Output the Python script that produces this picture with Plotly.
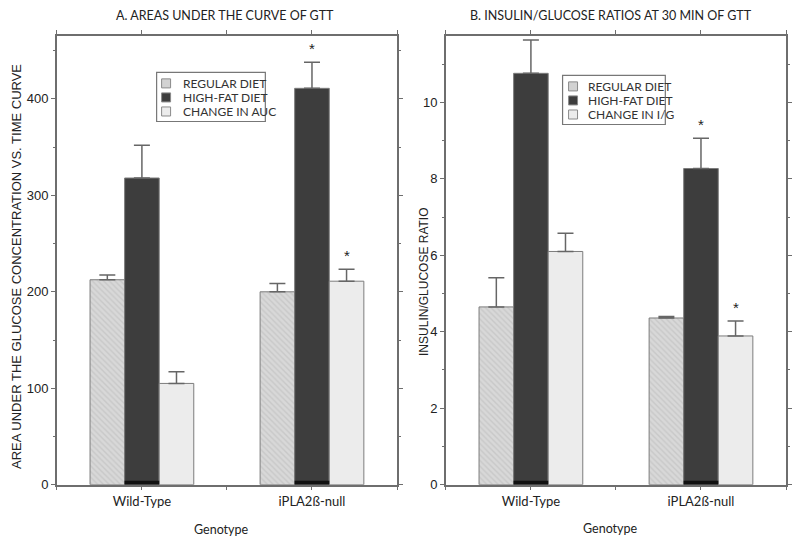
import plotly.graph_objects as go

# ---------------- data ----------------
genotypes = ["Wild-Type", "iPLA2ß-null"]
group_pos = [1, 3]            # positions of the genotype groups on the x scale
x_ticks = [0, 1, 2, 3, 4]

# Panel A: area under the curve of GTT
auc_regular = [212.5, 200]
auc_regular_err = [5, 8.5]
auc_highfat = [318, 411]
auc_highfat_err = [34, 27]
auc_change = [105, 211]
auc_change_err = [12, 12.5]
auc_sig_highfat = [False, True]
auc_sig_change = [False, True]

# Panel B: insulin/glucose ratios at 30 min
ig_regular = [4.65, 4.36]
ig_regular_err = [0.76, 0.04]
ig_highfat = [10.76, 8.27]
ig_highfat_err = [0.87, 0.79]
ig_change = [6.1, 3.89]
ig_change_err = [0.48, 0.39]
ig_sig_highfat = [False, True]
ig_sig_change = [False, True]

series_names_a = ["REGULAR DIET", "HIGH-FAT DIET", "CHANGE IN AUC"]
series_names_b = ["REGULAR DIET", "HIGH-FAT DIET", "CHANGE IN I/G"]

# ---------------- geometry helpers (page has 8px body margin) ----------------
W, H = 784, 540
OFF = 8
KY = 0.982   # observed vertical scale of the photographed page


def px(X):
    return (X - OFF) / W


def py(Y):
    return 1 - (Y / KY - OFF) / H


# ---------------- style ----------------
AX = "#6e6e6e"
OUT = "#7c7c7c"
ERR = "#666666"
LABEL_FONT = "Lato"
NUM_FONT = "Liberation Sans"
BARGAP = 0.39

styles = [
    dict(color="#d2d2d2", pattern=dict(shape="\\", fgcolor="#b8b8b8", bgcolor="#d8d8d8", size=4, solidity=0.35)),
    dict(color="#3d3d3d", pattern=None),
    dict(color="#ececec", pattern=None),
]

fig = go.Figure()


def add_panel(values, errors, names, xa, ya):
    for i, (vals, errs, name) in enumerate(zip(values, errors, names)):
        marker = dict(color=styles[i]["color"], line=dict(color=OUT, width=1))
        if styles[i]["pattern"]:
            marker["pattern"] = styles[i]["pattern"]
        fig.add_trace(go.Bar(
            x=group_pos, y=vals, name=name, marker=marker,
            error_y=dict(type="data", array=errs, arrayminus=[0] * len(errs),
                         symmetric=False, color=ERR, thickness=1.5, width=8),
            xaxis=xa, yaxis=ya, showlegend=False,
            offsetgroup=str(i), alignmentgroup=xa,
        ))


add_panel([auc_regular, auc_highfat, auc_change],
          [auc_regular_err, auc_highfat_err, auc_change_err],
          series_names_a, "x", "y")
add_panel([ig_regular, ig_highfat, ig_change],
          [ig_regular_err, ig_highfat_err, ig_change_err],
          series_names_b, "x2", "y2")

bar_w = 2 * (1 - BARGAP) / 3

# dark base strip at the foot of the high-fat bars
for xr, yr in (("x", "y"), ("x2", "y2")):
    for gp in group_pos:
        fig.add_shape(type="rect", xref=xr, yref=yr, x0=gp - bar_w / 2, x1=gp + bar_w / 2,
                      ysizemode="pixel", yanchor=0, y0=0, y1=4,
                      fillcolor="#111111", line=dict(width=0))


# significance stars
def add_stars(vals, errs, sig, offset, xref, yref):
    for gp, v, e, s in zip(group_pos, vals, errs, sig):
        if s:
            fig.add_annotation(x=gp + offset, y=v + e, xref=xref, yref=yref,
                               text="*", showarrow=False, yanchor="bottom", yshift=3,
                               font=dict(family=NUM_FONT, size=15, color="#222222"))


add_stars(auc_highfat, auc_highfat_err, auc_sig_highfat, 0, "x", "y")
add_stars(auc_change, auc_change_err, auc_sig_change, bar_w, "x", "y")
add_stars(ig_highfat, ig_highfat_err, ig_sig_highfat, 0, "x2", "y2")
add_stars(ig_change, ig_change_err, ig_sig_change, bar_w, "x2", "y2")

ydom = [py(483), py(36)]
xdomA = [px(57), px(398)]
xdomB = [px(447), px(788)]

common_x = dict(range=[0, 4], tickvals=x_ticks,
                ticktext=["", genotypes[0], "", genotypes[1], ""],
                showline=True, linecolor=AX, linewidth=1.5, mirror="ticks",
                ticks="outside", ticklen=4, tickcolor=AX, tickwidth=1,
                showgrid=False, zeroline=False,
                tickfont=dict(family=LABEL_FONT, size=13, color="#222"))
common_y = dict(showline=True, linecolor=AX, linewidth=1.5, mirror="allticks",
                ticks="outside", ticklen=4, tickcolor=AX, tickwidth=1,
                showgrid=False, zeroline=False,
                tickfont=dict(family=NUM_FONT, size=13, color="#222"))

fig.update_layout(
    width=W, height=H,
    margin=dict(l=0, r=0, t=0, b=0),
    paper_bgcolor="white", plot_bgcolor="white",
    barmode="group", bargap=BARGAP, bargroupgap=0,
    showlegend=False,
    xaxis=dict(domain=xdomA, anchor="y", **common_x),
    yaxis=dict(domain=ydom, anchor="x", range=[0, 465], tickvals=[0, 100, 200, 300, 400],
               minor=dict(dtick=50, ticks="outside", ticklen=2, tickcolor=AX), **common_y),
    xaxis2=dict(domain=xdomB, anchor="y2", **common_x),
    yaxis2=dict(domain=ydom, anchor="x2", range=[0, 11.73], tickvals=[0, 2, 4, 6, 8, 10],
                minor=dict(dtick=1, ticks="outside", ticklen=2, tickcolor=AX), **common_y),
)


# ---------------- legends (boxed key inside each panel) ----------------
def add_key(names, box, sw_x, text_x, rows):
    x0, y0, x1, y1 = box
    fig.add_shape(type="rect", xref="paper", yref="paper", x0=px(x0), x1=px(x1),
                  y0=py(y1), y1=py(y0), fillcolor="white", line=dict(color="#777", width=1.2))
    for i, (name, ry) in enumerate(zip(names, rows)):
        fig.add_shape(type="rect", xref="paper", yref="paper",
                      x0=px(sw_x), x1=px(sw_x + 9), y0=py(ry + 4.5), y1=py(ry - 4.5),
                      fillcolor=styles[i]["color"], line=dict(color="#8a8a8a", width=1))
        fig.add_annotation(text=name, x=px(text_x), y=py(ry), xref="paper", yref="paper",
                           xanchor="left", yanchor="middle", showarrow=False,
                           font=dict(family=LABEL_FONT, size=12, color="#333"))


add_key(series_names_a, (157, 72, 266, 121), 162, 181, [83, 97, 111])
add_key(series_names_b, (564, 75, 667, 124), 570, 587, [86, 100, 114])

# titles and axis titles
ann = [
    dict(text="A. AREAS UNDER THE CURVE OF GTT", x=226, y=15, size=12.5, family=LABEL_FONT, angle=0),
    dict(text="B. INSULIN/GLUCOSE RATIOS AT 30 MIN OF GTT", x=613, y=15, size=12.5, family=LABEL_FONT, angle=0),
    dict(text="Genotype", x=222, y=528, size=12.5, family=LABEL_FONT, angle=0),
    dict(text="Genotype", x=612, y=527, size=12.5, family=LABEL_FONT, angle=0),
    dict(text="AREA UNDER THE GLUCOSE CONCENTRATION VS. TIME CURVE", x=17, y=265, size=13, family=NUM_FONT, angle=-90),
    dict(text="INSULIN/GLUCOSE RATIO", x=425, y=281, size=12, family=NUM_FONT, angle=-90),
]
for a in ann:
    fig.add_annotation(text=a["text"], x=px(a["x"]), y=py(a["y"]), xref="paper", yref="paper",
                       showarrow=False, xanchor="center", yanchor="middle", textangle=a["angle"],
                       font=dict(family=a["family"], size=a["size"], color="#222"))

fig.write_html("out.html")
